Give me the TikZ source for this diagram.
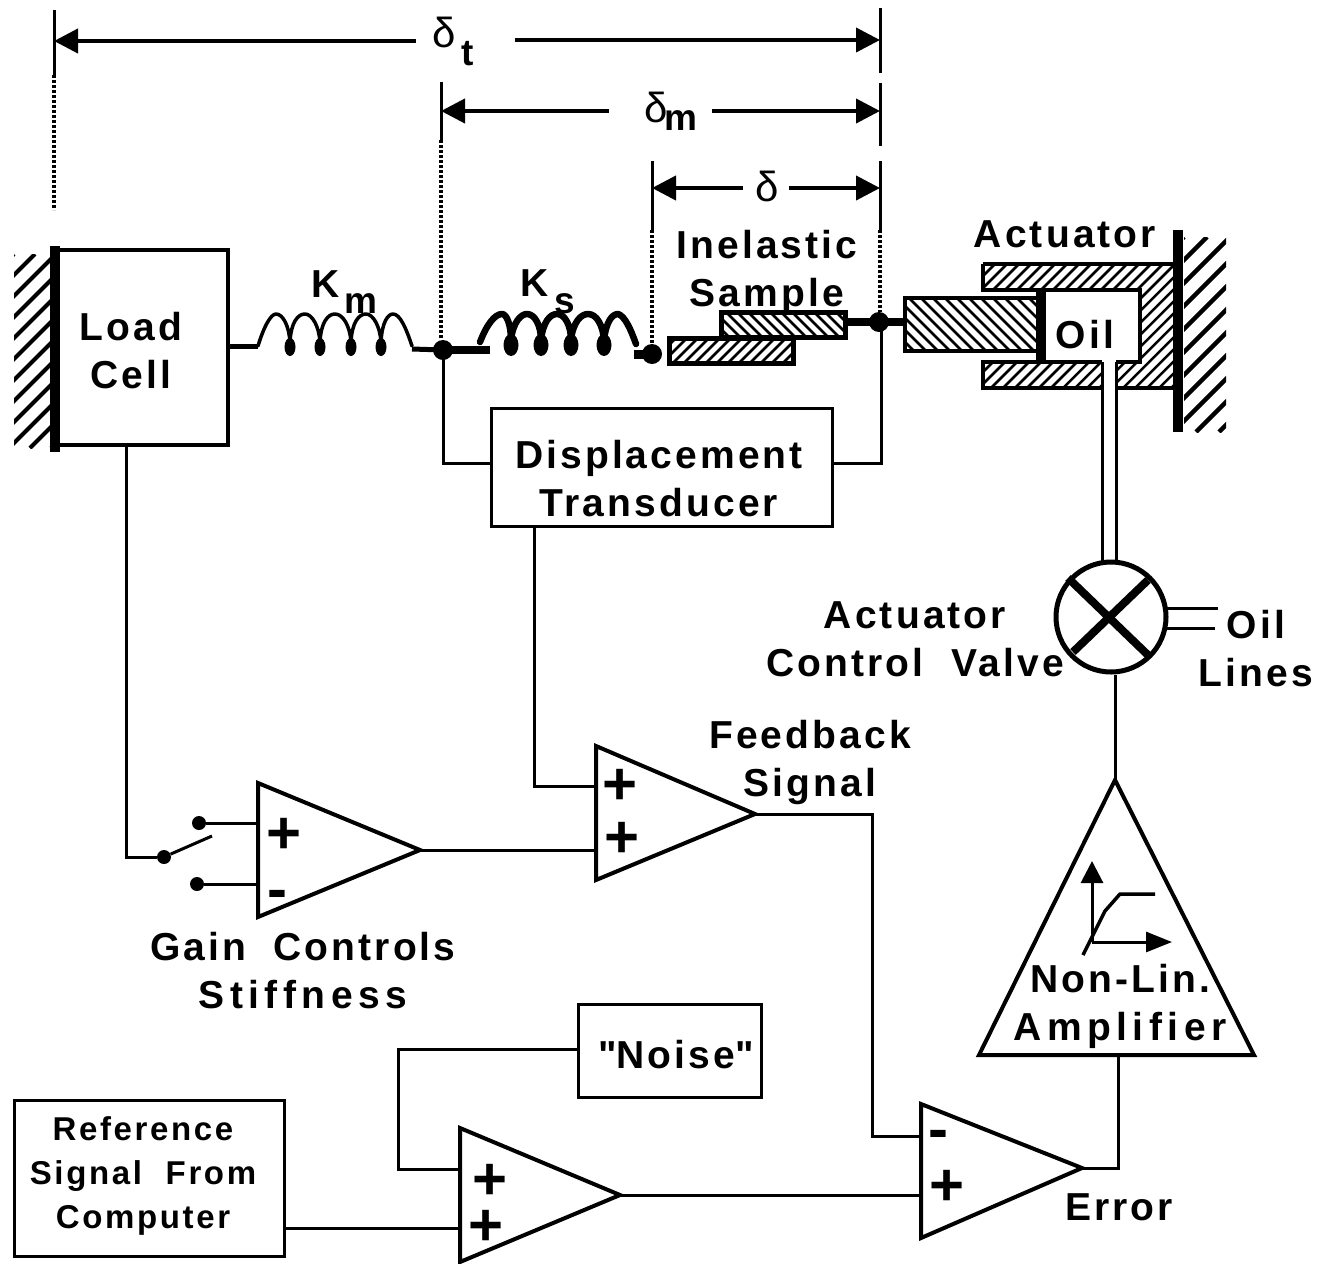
\documentclass[tikz,border=0pt]{standalone}
\usepackage{fontspec}
\setmainfont[LetterSpace=8]{Liberation Sans}
\newfontfamily\signfont{Liberation Sans}
\newfontfamily\greekfont{Liberation Sans}
\newfontfamily\widefont[LetterSpace=14]{Liberation Sans}
\usetikzlibrary{arrows.meta}
\newcommand{\hatchNE}[6]{% x1 y1 x2 y2 gap lw : strokes rising to the right
  \begin{scope}
    \clip (#1,#2) rectangle (#3,#4);
    \pgfmathsetmacro{\hh}{#4-#2}
    \pgfmathsetmacro{\nn}{int((#3-#1+\hh)/#5)+1}
    \foreach \k in {0,...,\nn}{
      \pgfmathsetmacro{\xa}{#1-\hh+\k*#5}
      \pgfmathsetmacro{\xb}{\xa+\hh}
      \draw[line width=#6] (\xa,#4) -- (\xb,#2);
    }
  \end{scope}}
\newcommand{\hatchNW}[6]{% x1 y1 x2 y2 gap lw : strokes falling to the right
  \begin{scope}
    \clip (#1,#2) rectangle (#3,#4);
    \pgfmathsetmacro{\hh}{#4-#2}
    \pgfmathsetmacro{\nn}{int((#3-#1+\hh)/#5)+1}
    \foreach \k in {0,...,\nn}{
      \pgfmathsetmacro{\xa}{#1-\hh+\k*#5}
      \pgfmathsetmacro{\xb}{\xa+\hh}
      \draw[line width=#6] (\xa,#2) -- (\xb,#4);
    }
  \end{scope}}
\tikzset{
  lab/.style={inner sep=0pt,align=center,font=\fontsize{39}{48}\selectfont\bfseries},
  labsmall/.style={inner sep=0pt,align=center,font=\fontsize{33}{44}\selectfont\bfseries},
  labsub/.style={inner sep=0pt,font=\fontsize{37}{37}\selectfont\bfseries},
  delta/.style={inner sep=0pt,font=\fontsize{42}{42}\selectfont\greekfont},
  sign/.style={inner sep=0pt,font=\fontsize{60}{60}\selectfont\signfont\bfseries},
  blockbox/.style={draw,line width=3pt,inner sep=0pt,align=center},
  wire/.style={line width=3pt},
  amp/.style={line width=4pt,line join=miter},
  dim/.style={line width=4pt,-{Triangle[length=24pt,width=24pt]}},
  tick/.style={line width=3pt},
  dots/.style={line width=4pt,dash pattern=on 3pt off 2pt},
  dotfill/.style={fill=black,circle,inner sep=0pt,minimum size=14pt},
  ball/.style={fill=black,circle,inner sep=0pt,minimum size=20pt},
  thickbar/.style={line width=10pt}
}
\begin{document}
\begin{tikzpicture}[x=1pt,y=-1pt]
\useasboundingbox (0,0) rectangle (1331,1264);

% ---------- walls
\hatchNE{14}{254}{50}{448}{21}{4pt}
\hatchNE{1184}{237}{1226}{432}{23}{4.5pt}

% ---------- blocks
\node[blockbox,line width=4pt,minimum width=172pt,minimum height=195pt] (loadcell) at (141.5,347.5) {};
\node[lab] (loadtxt) at (131,351) {Load\\Cell};
\draw[thickbar] (55,246) -- (55,452);
\node[blockbox,minimum width=341pt,minimum height=118pt] (dt) at (661.5,467) {};
\node[lab] (dttxt) at (659,479) {Displacement\\Transducer};
\node[blockbox,minimum width=183pt,minimum height=93pt] (noise) at (669.5,1050.5) {};
\node[lab] (noisetxt) at (676,1055) {{\signfont"}Noise{\signfont"}};
\node[blockbox,minimum width=270pt,minimum height=156pt] (refs) at (149,1178) {};
\node[labsmall] (reftxt) at (143,1176) {Reference\\Signal\ \ From\\Computer};

% ---------- springs
\coordinate (kmL) at (258,346);
\coordinate (kmR) at (412,346);
\coordinate (ksL) at (480,342);
\coordinate (ksR) at (636,344);
\node[ball] (nodeA) at (443,350) {};
\node[ball] (nodeB) at (652,354) {};
\node[ball] (nodeC) at (879,322) {};

\draw[line width=3.5pt,line cap=round,line join=round]
  (kmL) .. controls (264,326) and (271,314) .. (276,314)
  .. controls (283,314) and (289,326) .. (290,342)
  .. controls (291,322) and (298,314) .. (305,314)
  .. controls (312,314) and (319,326) .. (320,342)
  .. controls (321,322) and (328,314) .. (335,314)
  .. controls (343,314) and (350,326) .. (351,342)
  .. controls (352,322) and (359,314) .. (366,314)
  .. controls (373,314) and (380,326) .. (381,342)
  .. controls (382,322) and (388,314) .. (393,314)
  .. controls (400,314) and (406,328) .. (kmR);
\foreach \dx in {290,320,351,381}{\fill (\dx,347) ellipse (5.5pt and 9pt);}
\draw[line width=6.5pt,line cap=round,line join=round]
  (ksL) .. controls (487,324) and (495,314) .. (502,314)
  .. controls (507,314) and (511,326) .. (511,340)
  .. controls (513,322) and (521,314) .. (527,314)
  .. controls (535,314) and (541,326) .. (541,340)
  .. controls (543,322) and (550,314) .. (557,314)
  .. controls (565,314) and (571,326) .. (571,340)
  .. controls (573,322) and (581,314) .. (588,314)
  .. controls (597,314) and (603,326) .. (604,340)
  .. controls (606,322) and (612,314) .. (618,314)
  .. controls (625,316) and (631,330) .. (ksR);
\foreach \dx in {511,541,571,604}{\fill (\dx,345) ellipse (7.5pt and 11pt);}

\draw[line width=5pt] (loadcell.east |- kmL) -- (kmL);
\draw[line width=5pt] (kmR) ++(0,3) -- (nodeA.center);
\draw[line width=8pt] (nodeA.center) -- (490,350);
\draw[line width=9pt] (634,354) -- (nodeB.center);

% ---------- sample
\hatchNW{719}{310}{846}{338}{11}{2.5pt}
\draw[line width=5pt] (721,312) rectangle (845,337);
\hatchNE{667}{336}{795}{365}{11}{2.5pt}
\draw[line width=5pt] (669,338) rectangle (793,363);
\draw[line width=8pt] (845,322) -- (nodeC.center);
\draw[line width=8pt] (nodeC.center) -- (904,322);

% ---------- actuator
\hatchNW{903}{297}{1040}{352}{12}{2.8pt}
\draw[line width=4pt] (1040,298) -- (905,298) -- (905,351) -- (1040,351);
\draw[thickbar] (1041,290) -- (1041,363);
\begin{scope}
  \clip (983,264) -- (1178,264) -- (1178,388) -- (983,388) -- (983,362) -- (1140,362) -- (1140,290) -- (983,290) -- cycle;
  \hatchNE{983}{264}{1178}{388}{12}{2.5pt}
\end{scope}
\fill[white] (1102,360) rectangle (1116,392);
\draw[wire,line width=3.5pt] (983,264) -- (1178,264);
\draw[wire,line width=3.5pt] (983,264) -- (983,290) -- (1140,290) -- (1140,362) -- (1116,362);
\draw[wire,line width=3.5pt] (1102,362) -- (983,362) -- (983,388) -- (1102,388);
\draw[wire,line width=3.5pt] (1116,388) -- (1178,388);
\draw[thickbar] (1178,230) -- (1178,432);

% ---------- valve
\node[draw,circle,line width=5pt,minimum size=110pt,inner sep=0pt] (valve) at (1111,617) {};
\draw[line width=8pt] (1068,578) -- (1150,657);
\draw[line width=8pt] (1148,580) -- (1073,652);
\draw[wire] (1102,362) -- (1102,562);
\draw[wire] (1116,362) -- (1116,562);
\coordinate (oilA) at (1218,608);
\coordinate (oilB) at (1215,628);
\draw[wire] (1165,608) -- (oilA);
\draw[wire] (1165,628) -- (oilB);

% ---------- non-linear amplifier
\coordinate (nlTop) at (1115,780);
\coordinate (nlL) at (979,1055);
\coordinate (nlR) at (1254,1055);
\draw[amp] (nlTop) -- (nlR) -- (nlL) -- cycle;
\draw[wire] (valve.south -| nlTop) -- (nlTop);
\coordinate (axO) at (1092,942);
\coordinate (axY) at (1092,861);
\coordinate (axX) at (1172,942);
\draw[line width=3pt,-{Triangle[length=22pt,width=22pt]}] (axO) -- (axY);
\draw[line width=3pt,-{Triangle[length=26pt,width=20pt]}] (axO) -- (axX);
\draw[line width=3.5pt] (1083,955) -- (1105,911) -- (1120,894) -- (1155,894);

% ---------- summing amplifiers
\coordinate (gainA) at (258,783); \coordinate (gainB) at (258,917); \coordinate (gainO) at (420,850);
\coordinate (fbA) at (596,746);   \coordinate (fbB) at (596,880);   \coordinate (fbO) at (755,814);
\coordinate (errA) at (921,1104); \coordinate (errB) at (921,1238); \coordinate (errO) at (1082,1168);
\coordinate (sumA) at (460,1128); \coordinate (sumB) at (460,1262); \coordinate (sumO) at (620,1195);
\draw[amp] (gainA) -- (gainO) -- (gainB) -- cycle;
\draw[amp] (fbA) -- (fbO) -- (fbB) -- cycle;
\draw[amp] (errA) -- (errO) -- (errB) -- cycle;
\draw[amp] (sumA) -- (sumO) -- (sumB) -- cycle;

\node[sign] (s1) at (284,836) {+};
\node[sign] (s2) at (277,900) {-};
\node[sign] (s3) at (620,787) {+};
\node[sign] (s4) at (622,840) {+};
\node[sign] (s5) at (938,1140) {-};
\node[sign] (s6) at (947,1188) {+};
\node[sign] (s7) at (490,1182) {+};
\node[sign] (s8) at (486,1228) {+};

% ---------- switch
\node[dotfill] (swC) at (164,857) {};
\node[dotfill] (swA) at (199,823) {};
\node[dotfill] (swB) at (197,884) {};
\coordinate (swEnd) at (212,836);
\draw[wire] (swC) -- (swEnd);
\draw[wire] (swA) -- (swA -| gainA);
\draw[wire] (swB) -- (swB -| gainA);

% ---------- signal wires
\coordinate (lcOut) at (126,446);
\coordinate (lcBend) at (126,857);
\draw[wire] (lcOut) -- (lcBend) -- (swC);
\draw[wire] (gainO) -- (fbA |- gainO);
\coordinate (dtOut) at (534,526);
\coordinate (dtBend) at (534,786);
\draw[wire] (dtOut) -- (dtBend) -- (fbA |- dtBend);
\coordinate (fbBendA) at (872,814);
\coordinate (fbBendB) at (872,1136);
\draw[wire] (fbO) -- (fbBendA) -- (fbBendB) -- (errA |- fbBendB);
\coordinate (errBend) at (1118,1168);
\draw[wire] (errO) -- (errBend) -- (errBend |- nlL);
\draw[wire] (sumO) -- (errA |- sumO);
\coordinate (noiseBendA) at (398,1049);
\coordinate (noiseBendB) at (398,1169);
\draw[wire] (noise.west |- noiseBendA) -- (noiseBendA) -- (noiseBendB) -- (sumA |- noiseBendB);
\coordinate (refOut) at (284,1228);
\draw[wire] (refOut) -- (sumA |- refOut);
\coordinate (dtLeft) at (443,463);
\coordinate (dtRight) at (881,463);
\draw[wire] (nodeA.center) -- (dtLeft) -- (dt.west |- dtLeft);
\draw[wire] (dt.east |- dtRight) -- (dtRight) -- (dtRight |- nodeC);

% ---------- dimension lines
\draw[tick] (54,10) -- (54,75);
\draw[dots] (54,75) -- (54,210);
\draw[tick] (441,82) -- (441,140);
\draw[dots] (441,140) -- (nodeA.north -| 441,0);
\draw[tick] (652,161) -- (652,230);
\draw[dots] (652,230) -- (nodeB.north);
\draw[tick] (880,8) -- (880,73);
\draw[tick] (880,83) -- (880,146);
\draw[tick] (880,161) -- (880,230);
\draw[dots] (880,230) -- (nodeC.north -| 880,0);

\coordinate (dTl) at (54,41);  \coordinate (dTa) at (416,41);
\coordinate (dTb) at (515,40); \coordinate (dTr) at (880,40);
\draw[dim] (dTa) -- (dTl);
\draw[dim] (dTb) -- (dTr);
\coordinate (dMl) at (441,111); \coordinate (dMa) at (609,111);
\coordinate (dMb) at (712,111); \coordinate (dMr) at (880,111);
\draw[dim] (dMa) -- (dMl);
\draw[dim] (dMb) -- (dMr);
\coordinate (dSl) at (652,188); \coordinate (dSa) at (743,188);
\coordinate (dSb) at (789,188); \coordinate (dSr) at (880,188);
\draw[dim] (dSa) -- (dSl);
\draw[dim] (dSb) -- (dSr);

% ---------- labels
\node[delta] (dt1) at (444,32) {δ};
\node[labsub,anchor=center] (dt2) at (468,54) {t};
\node[delta] (dm1) at (656,107) {δ};
\node[labsub] (dm2) at (681,121) {m};
\node[delta] (ds1) at (767,186) {δ};

\node[lab] (km1) at (326,284) {K};
\node[labsub] (km2) at (361,304) {m};
\node[lab] (ks1) at (535,283) {K};
\node[labsub] (ks2) at (565,304) {s};

\node[lab] (inel) at (767,272) {Inelastic\\Sample};
\node[lab] (act) at (1065,234) {Actuator};
\node[lab] (oil1) at (1085,335) {Oil};
\node[lab] (actctl) at (915,639) {Actuator\\Control\ \ Valve};
\node[lab] (oil2) at (1256,649) {Oil\\Lines};
\node[lab] (fb) at (810,762) {Feedback\\Signal};
\node[lab] (gain) at (303,971) {Gain\hspace{27pt}Controls\\{\widefont Stiffness}};
\node[lab] (nl) at (1120,1006) {Non-Lin.\\{\widefont Amplifier}};
\node[lab] (err) at (1119,1207) {Error};
\end{tikzpicture}
\end{document}
